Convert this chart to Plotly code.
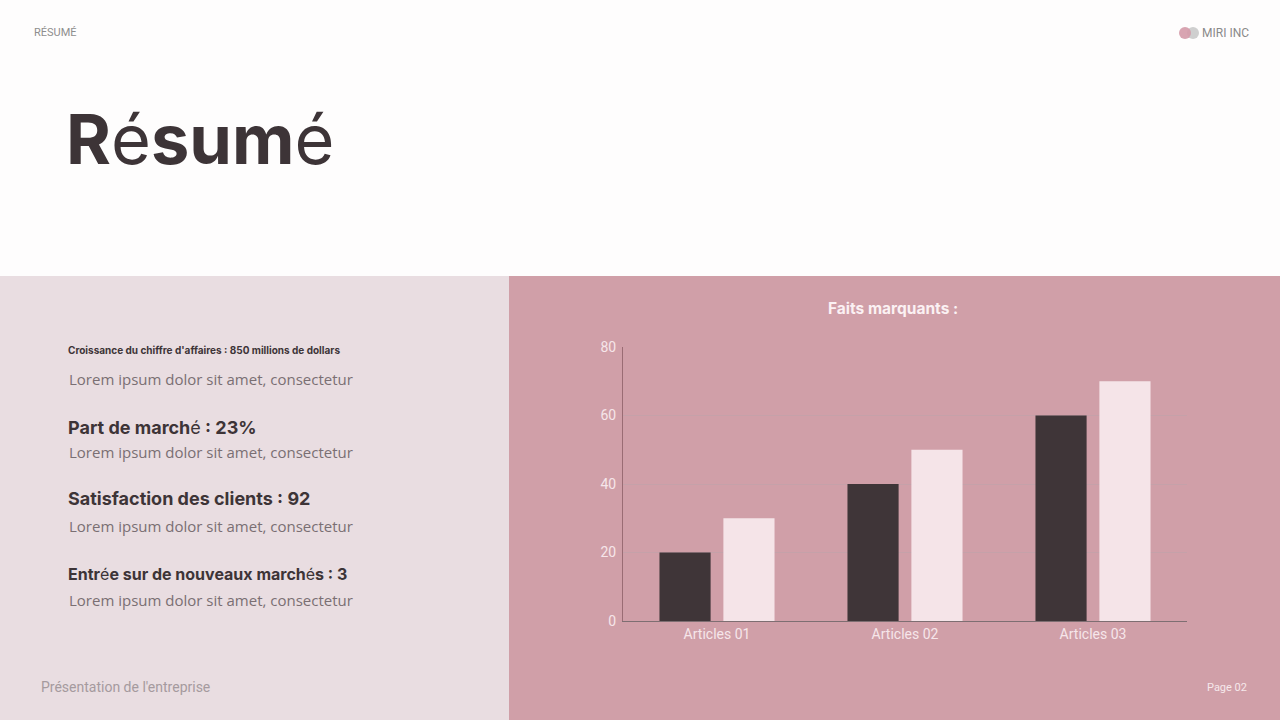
import plotly.graph_objects as go

W, H = 1280, 720
FIG_H = 736  # the page shot comes out squeezed by 720/736, so draw a bit taller

categories = ["Articles 01", "Articles 02", "Articles 03"]
serie_1 = [20, 40, 60]
serie_2 = [30, 50, 70]
y_ticks = [0, 20, 40, 60, 80]

dark = "#3F3538"
light = "#F5E4E8"
panel_left = "#E9DDE1"
panel_right = "#D09FA8"
ink = "#3D3437"
grey_txt = "#7A6F73"


def px(x):
    return x / W


def py(y):
    return 1 - y / H


fig = go.Figure()
fig.add_trace(go.Bar(name="Série 1", x=categories, y=serie_1, marker_color=dark,
                     marker_line_width=0))
fig.add_trace(go.Bar(name="Série 2", x=categories, y=serie_2, marker_color=light,
                     marker_line_width=0))

# backgrounds
shapes = [
    dict(type="rect", xref="paper", yref="paper", x0=0, x1=1, y0=py(276), y1=1,
         fillcolor="#FEFDFD", line_width=0, layer="below"),
    dict(type="rect", xref="paper", yref="paper", x0=0, x1=px(509), y0=0, y1=py(276),
         fillcolor=panel_left, line_width=0, layer="below"),
    dict(type="rect", xref="paper", yref="paper", x0=px(509), x1=1, y0=0, y1=py(276),
         fillcolor=panel_right, line_width=0, layer="below"),
    # logo dots
    dict(type="circle", xref="paper", yref="paper", x0=px(1187), x1=px(1199),
         y0=py(39), y1=py(27), fillcolor="#CFCFCF", line_width=0),
    dict(type="circle", xref="paper", yref="paper", x0=px(1179), x1=px(1191),
         y0=py(39), y1=py(27), fillcolor="#D49AA9", line_width=0, opacity=0.9),
]

ann = []


def txt(x, y, s, size, color, family="Roboto", anchor="left"):
    ann.append(dict(x=px(x), y=py(y), xref="paper", yref="paper", text=s,
                    showarrow=False, xanchor=anchor, yanchor="middle",
                    font=dict(size=size, color=color, family=family)))


txt(32, 33, "RÉSUMÉ", 11, "#8E8E8E")
txt(1200, 33, "MIRI INC", 12, "#8A8A8A")
txt(64, 140, "<b>R</b>é<b>sum</b>é", 68.5, ink, "Inter")

txt(66, 350, "<b>Croissance du chiffre d'affaires : 850 millions de dollars</b>", 10, ink, "Inter")
txt(67, 379, "Lorem ipsum dolor sit amet, consectetur", 15, grey_txt, "Open Sans")
txt(66, 427, "<b>Part de march</b>é<b> : 23%</b>", 18, ink, "Inter")
txt(67, 452, "Lorem ipsum dolor sit amet, consectetur", 15, grey_txt, "Open Sans")
txt(66, 498, "<b>Satisfaction des clients : 92</b>", 18, ink, "Inter")
txt(67, 526, "Lorem ipsum dolor sit amet, consectetur", 15, grey_txt, "Open Sans")
txt(66, 574, "<b>Entr</b>é<b>e sur de nouveaux march</b>é<b>s : 3</b>", 16, ink, "Inter")
txt(67, 600, "Lorem ipsum dolor sit amet, consectetur", 15, grey_txt, "Open Sans")

txt(39, 687, "Présentation de l'entreprise", 14, "#A59A9E", "Roboto")
txt(1249, 687, "Page 02", 11, "#F6E8EB", "Roboto", anchor="right")
txt(893, 308, "<b>Faits marquants :</b>", 15.5, "#FBF1F3", "Inter", anchor="center")

fig.update_layout(
    width=W, height=FIG_H,
    margin=dict(l=0, r=0, t=0, b=0),
    paper_bgcolor="#FEFDFD",
    plot_bgcolor="rgba(0,0,0,0)",
    barmode="group",
    bargap=0.32,
    bargroupgap=0.2,
    showlegend=False,
    shapes=shapes,
    annotations=ann,
    font=dict(family="Roboto", color="#F6E6EA", size=14),
    xaxis=dict(domain=[px(623), px(1187)], showgrid=False, showline=True,
               linecolor="#7E6E72", linewidth=1, ticks="",
               tickfont=dict(size=14, color="#F6E6EA", family="Roboto")),
    yaxis=dict(domain=[py(621), py(347)], range=[0, 80], tickvals=y_ticks,
               showgrid=True, gridcolor="rgba(185,165,170,0.45)", gridwidth=1,
               zeroline=False, showline=True, linecolor="#9A6C74", linewidth=1,
               ticks="", ticklabelstandoff=3,
               tickfont=dict(size=14, color="#F6E6EA", family="Roboto")),
)

# pin the chart to the page corner (no body margin / scrolling)
pin = ("document.body.style.margin='0';"
       "document.documentElement.style.overflow='hidden';"
       "var gd=document.getElementById('{plot_id}');"
       "gd.style.position='fixed';gd.style.top='-8px';gd.style.left='0';")

fig.write_html("out.html", config={"displayModeBar": False}, post_script=pin)
